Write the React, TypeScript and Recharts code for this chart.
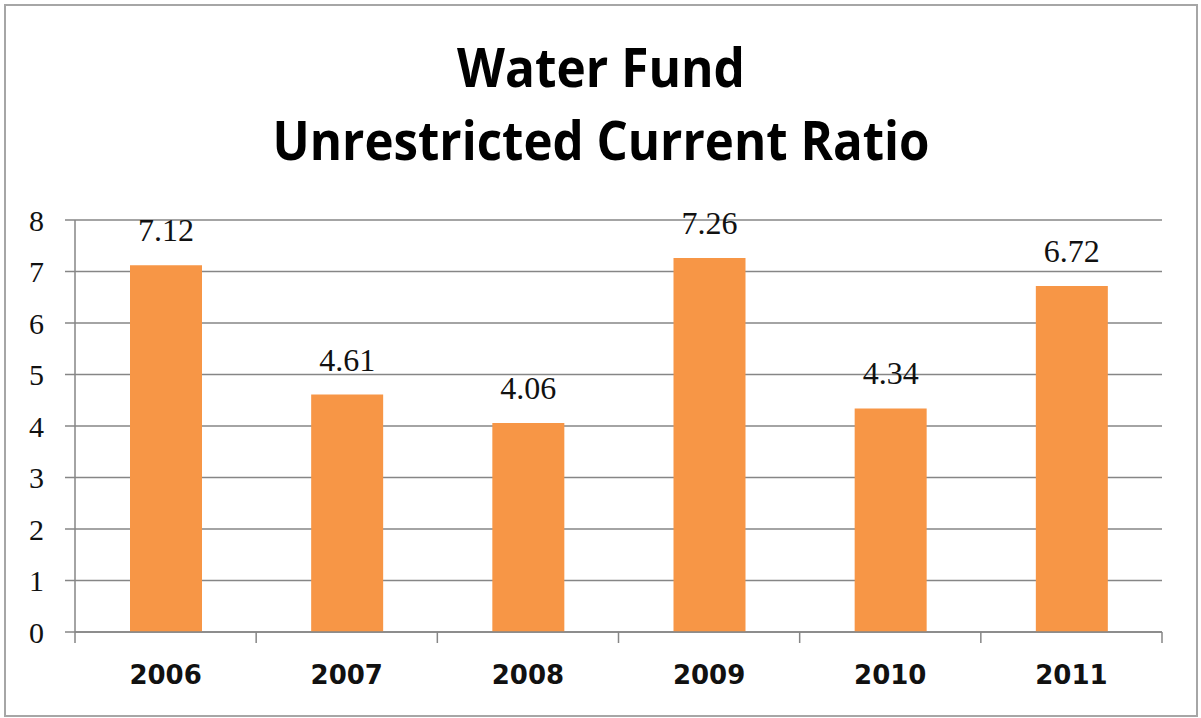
import { BarChart, Bar, XAxis, YAxis, CartesianGrid, LabelList } from "recharts";

const years = ["2006", "2007", "2008", "2009", "2010", "2011"];
const ratios = [7.12, 4.61, 4.06, 7.26, 4.34, 6.72];
const yTicks = [0, 1, 2, 3, 4, 5, 6, 7, 8];
const titleLines = ["Water Fund", "Unrestricted Current Ratio"];

const data = years.map((year, i) => ({ year, ratio: ratios[i] }));

const AXIS = "#868686";
const BAR = "#F79646";
const SERIF = "'Liberation Serif', 'DejaVu Serif', serif";

function YearTick(props: any) {
  const { x, y, payload, index, visibleTicksCount } = props;
  const half = payload.offset ?? 0;
  return (
    <g>
      <line x1={x - half} x2={x - half} y1={y} y2={y + 11} stroke={AXIS} strokeWidth={1.5} />
      {index === visibleTicksCount - 1 && (
        <line x1={x + half} x2={x + half} y1={y} y2={y + 11} stroke={AXIS} strokeWidth={1.5} />
      )}
      <text
        x={x}
        y={y + 52}
        textAnchor="middle"
        fontFamily="'DejaVu Sans', sans-serif"
        fontWeight="bold"
        fontSize={26}
        fill="#111"
      >
        {payload.value}
      </text>
    </g>
  );
}

export default function App() {
  return (
    <div style={{ position: "absolute", left: 0, top: 0, width: 1201, height: 718, background: "#fff" }}>
      <div
        style={{
          position: "absolute",
          left: 4,
          top: 4,
          width: 1194,
          height: 713,
          border: "2px solid #a6a6a6",
          boxSizing: "border-box",
        }}
      />
      <svg width={1201} height={200} style={{ position: "absolute", left: 0, top: 0 }}>
        <text
          x={601}
          y={87}
          textAnchor="middle"
          fontFamily="'Open Sans', sans-serif"
          fontWeight="bold"
          fontSize={53}
          textLength={288}
          lengthAdjust="spacingAndGlyphs"
          fill="#000"
        >
          {titleLines[0]}
        </text>
        <text
          x={601}
          y={160}
          textAnchor="middle"
          fontFamily="'Open Sans', sans-serif"
          fontWeight="bold"
          fontSize={53}
          textLength={657}
          lengthAdjust="spacingAndGlyphs"
          fill="#000"
        >
          {titleLines[1]}
        </text>
      </svg>
      <div style={{ position: "absolute", left: 0, top: 0 }}>
        <BarChart
          width={1201}
          height={718}
          data={data}
          margin={{ top: 220, right: 39, bottom: 36, left: 15 }}
        >
          <CartesianGrid vertical={false} stroke={AXIS} strokeWidth={1.5} />
          <XAxis
            dataKey="year"
            height={50}
            axisLine={{ stroke: AXIS, strokeWidth: 1.5 }}
            tickLine={false}
            tickSize={0}
            tickMargin={0}
            tick={<YearTick />}
            interval={0}
          />
          <YAxis
            width={60}
            domain={[0, 8]}
            ticks={yTicks}
            interval={0}
            axisLine={{ stroke: AXIS, strokeWidth: 1.5 }}
            tickLine={{ stroke: AXIS, strokeWidth: 1.5 }}
            tickSize={10}
            tickMargin={21}
            tick={{ fontFamily: SERIF, fontSize: 30, fill: "#111" }}
          />
          <Bar dataKey="ratio" fill={BAR} barSize={72} isAnimationActive={false}>
            <LabelList
              dataKey="ratio"
              position="top"
              offset={24}
              formatter={(v: any) => Number(v).toFixed(2)}
              style={{ fontFamily: SERIF, fontSize: 32, fill: "#111" }}
            />
          </Bar>
        </BarChart>
      </div>
    </div>
  );
}
